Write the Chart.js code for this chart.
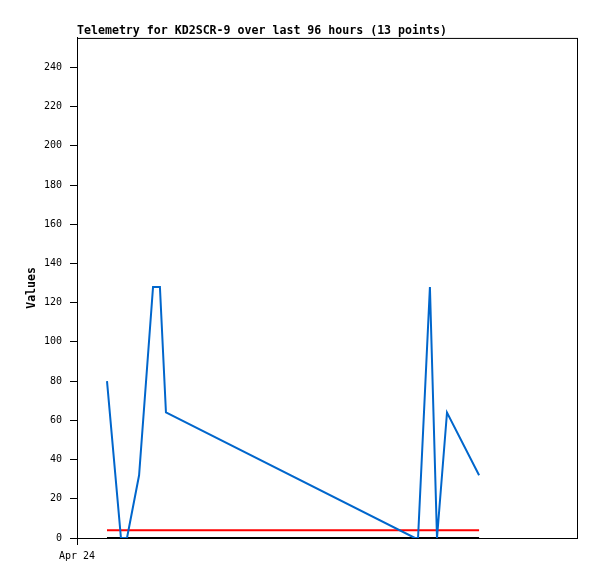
<!DOCTYPE html>
<html>
<head>
<meta charset="utf-8">
<script src="https://cdn.jsdelivr.net/npm/chart.js@4"></script>
<style>
  html, body { margin: 0; padding: 0; background: #fff; }
  #wrap { width: 597px; height: 579px; }
</style>
</head>
<body>
<div id="wrap"><canvas id="chart" width="597" height="579"></canvas></div>
<script>
// hours after Apr 24 00:00
const times = [1.44, 2.11, 2.4, 2.98, 3.65, 3.98, 4.27, 16.22, 16.37, 16.94, 17.28, 17.76, 19.3];
const values = [80, 0, 0, 32, 128, 128, 64, 0, 0, 128, 0, 64, 32];
const upperLimit = [4, 4, 4, 4, 4, 4, 4, 4, 4, 4, 4, 4, 4];
const lowerLimit = [0, 0, 0, 0, 0, 0, 0, 0, 0, 0, 0, 0, 0];
const dayTicks = [0];
const dayLabels = ["Apr 24"];
const yTicks = [0, 20, 40, 60, 80, 100, 120, 140, 160, 180, 200, 220, 240];
const chartTitle = "Telemetry for KD2SCR-9 over last 96 hours (13 points)";

const toPoints = (vals) => times.map((t, i) => ({ x: t, y: vals[i] }));

const frame = {
    id: 'frame',
    afterDraw(chart) {
        const a = chart.chartArea;
        const c = chart.ctx;
        c.save();
        c.strokeStyle = '#000';
        c.lineWidth = 1;
        c.strokeRect(a.left + 0.5, a.top + 0.5, a.right - a.left, a.bottom - a.top);
        c.restore();
    }
};

const mono = "'DejaVu Sans Mono', 'Liberation Mono', monospace";

new Chart(document.getElementById('chart'), {
    type: 'line',
    data: {
        datasets: [
            { data: toPoints(values), borderColor: '#0066cc', borderWidth: 2, pointRadius: 0, tension: 0 },
            { data: toPoints(upperLimit), borderColor: '#ff0000', borderWidth: 2, pointRadius: 0, tension: 0 },
            { data: toPoints(lowerLimit), borderColor: '#000000', borderWidth: 2, pointRadius: 0, tension: 0 }
        ]
    },
    options: {
        responsive: false,
        animation: false,
        layout: { padding: { left: 0, right: 20, top: 0, bottom: 0 } },
        plugins: {
            legend: { display: false },
            tooltip: { enabled: false },
            title: {
                display: true,
                text: chartTitle,
                align: 'start',
                fullSize: false,
                color: '#000',
                font: { family: mono, size: 11.6, weight: 'bold' },
                padding: { top: 24, bottom: 0 }
            }
        },
        scales: {
            x: {
                type: 'linear',
                min: 0,
                max: 24,
                afterBuildTicks: (axis) => { axis.ticks = dayTicks.map(v => ({ value: v })); },
                afterFit: (axis) => { axis.height = 41; },
                ticks: {
                    color: '#000',
                    font: { family: mono, size: 10 },
                    maxRotation: 0,
                    padding: 5,
                    callback: (v) => dayLabels[dayTicks.indexOf(v)] ?? ''
                },
                grid: { drawOnChartArea: false, drawTicks: true, tickLength: 7, color: '#000' },
                border: { color: '#000' }
            },
            y: {
                type: 'linear',
                min: 0,
                max: 255,
                afterBuildTicks: (axis) => { axis.ticks = yTicks.map(v => ({ value: v })); },
                afterFit: (axis) => { axis.width = 77; },
                title: {
                    display: true,
                    text: 'Values',
                    color: '#000',
                    font: { family: mono, size: 11.5, weight: 'bold' },
                    padding: { top: 25, bottom: 0 }
                },
                ticks: {
                    color: '#000',
                    font: { family: mono, size: 10 },
                    padding: 8
                },
                grid: { drawOnChartArea: false, drawTicks: true, tickLength: 7, color: '#000' },
                border: { color: '#000' }
            }
        }
    },
    plugins: [frame]
});
</script>
</body>
</html>
